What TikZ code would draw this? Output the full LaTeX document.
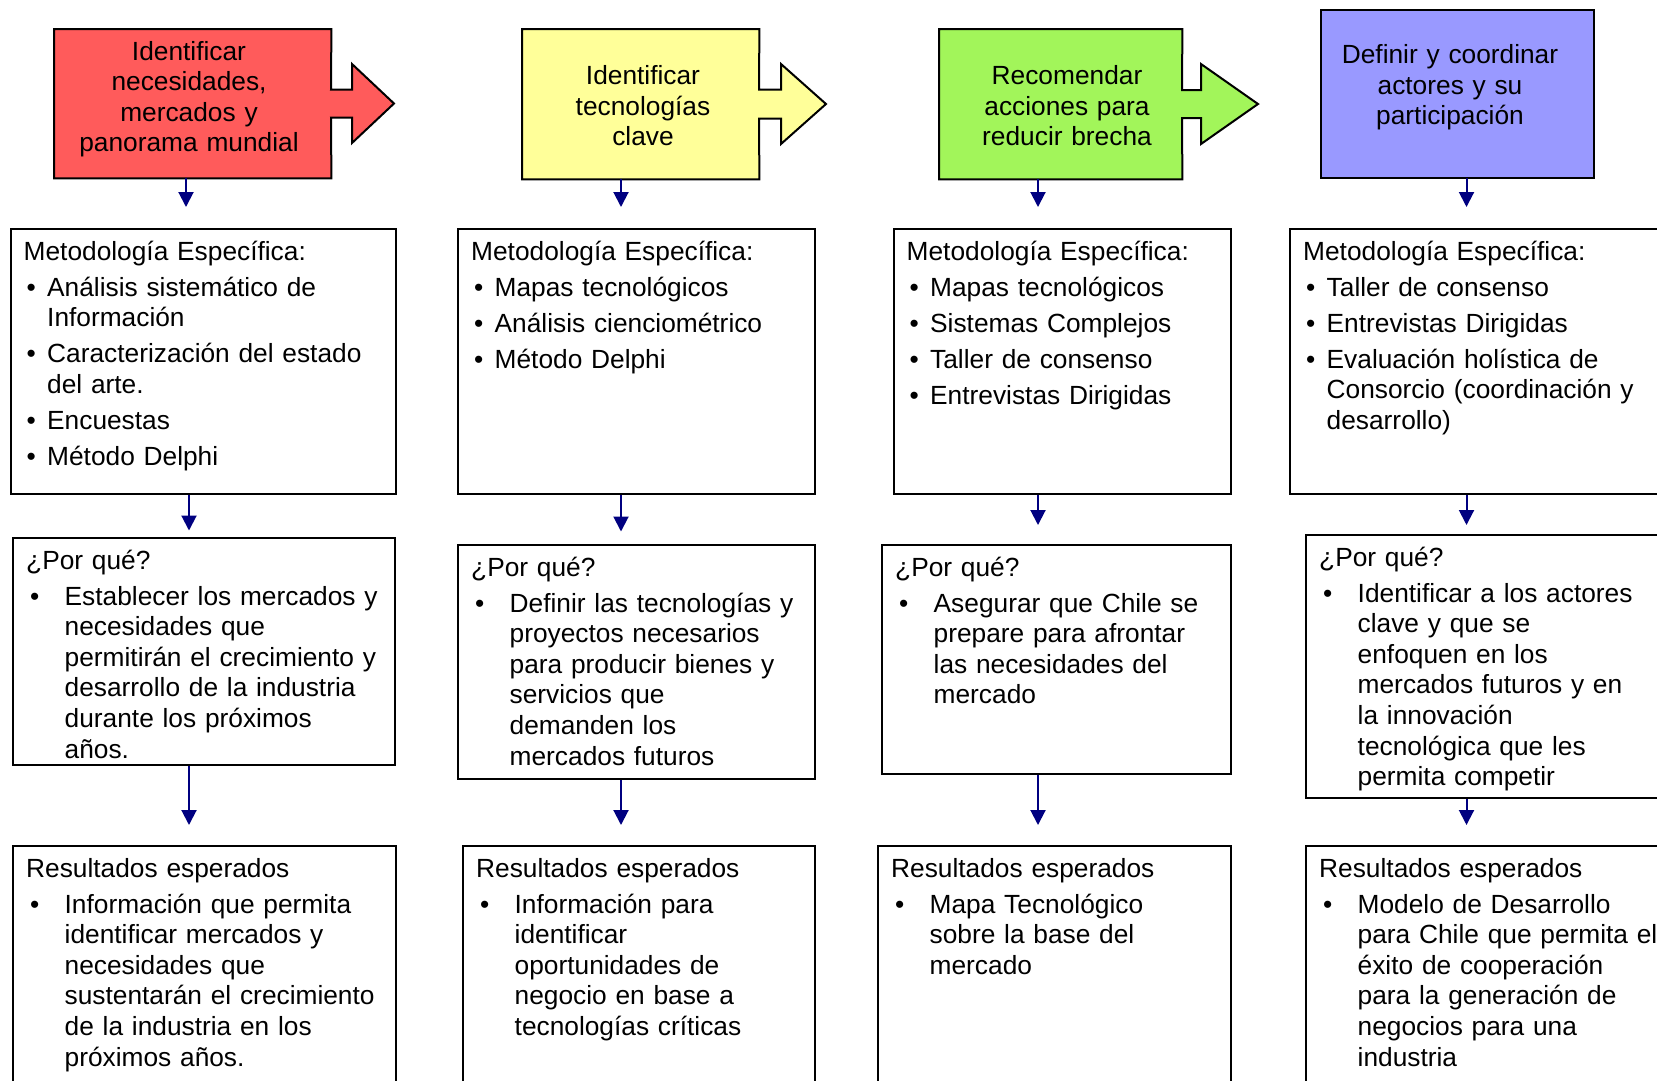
\documentclass[tikz,border=0pt]{standalone}
\usepackage{fontspec}
\setmainfont{Liberation Sans}
\usetikzlibrary{arrows.meta,calc}
\definecolor{cred}{RGB}{255,91,91}
\definecolor{cyel}{RGB}{255,255,153}
\definecolor{cgrn}{RGB}{162,245,90}
\definecolor{cblu}{RGB}{153,153,255}
\definecolor{navy}{RGB}{0,0,128}
\newcommand\bi[3]{\par\lineskip=0pt\relax\lineskiplimit=0pt\relax\vspace{5.4pt}\noindent\hspace*{#1}\makebox[\dimexpr#2-#1\relax][l]{\textbullet}\parbox[t]{420pt}{\strut#3\strut}}
\tikzset{
  box/.style={draw=black, line width=2pt, fill=white, inner sep=0pt, anchor=north west},
  tbox/.style={draw=none, inner sep=0pt, anchor=north west},
  tshape/.style={draw=black, line width=2pt},
  ttxt/.style={anchor=base, text width=320pt, align=center, inner sep=0pt, font=\fontsize{26.3pt}{30.6pt}\selectfont},
  btxt/.style={anchor=base west, text width=500pt, inner sep=0pt, font=\fontsize{26.3pt}{30.6pt}\selectfont},
  conn/.style={draw=navy, line width=2pt, -{Triangle[length=15pt,width=15pt]}}
}
\begin{document}
\begin{tikzpicture}[x=1pt,y=-1pt]
\useasboundingbox (0,0) rectangle (1657,1080);
\clip (0,0) rectangle (1657,1080);
% column axes
\coordinate (x1a) at (186,0);
\coordinate (x1) at (189,0);
\coordinate (x2) at (621,0);
\coordinate (x3) at (1038,0);
\coordinate (x4) at (1466.5,0);
% title shapes
\node[tbox, minimum width=277pt, minimum height=149pt] (t1) at (54,29) {};
\node[tbox, minimum width=237pt, minimum height=150pt] (t2) at (522,29) {};
\node[tbox, minimum width=243pt, minimum height=150pt] (t3) at (939,29) {};
\node[tbox, minimum width=273pt, minimum height=168pt] (t4) at (1321,10) {};
\path[tshape, fill=cred] (t1.north west) -- (t1.north east) -- (331,89.5) -- (352,89.5) -- (352,64) -- (394,103.5) -- (352,143) -- (352,117.5) -- (331,117.5) -- (t1.south east) -- (t1.south west) -- cycle;
\path[tshape, fill=cyel] (t2.north west) -- (t2.north east) -- (759,89.5) -- (781,89.5) -- (781,64) -- (826,104) -- (781,144) -- (781,118.5) -- (759,118.5) -- (t2.south east) -- (t2.south west) -- cycle;
\path[tshape, fill=cgrn] (t3.north west) -- (t3.north east) -- (1182,90) -- (1201,90) -- (1201,64) -- (1258,104) -- (1201,144) -- (1201,118) -- (1182,118) -- (t3.south east) -- (t3.south west) -- cycle;
\path[tshape, fill=cblu] (t4.north west) rectangle (t4.south east);
\node[ttxt] (t1x) at (189,60) {Identificar\\necesidades,\\mercados y\\panorama mundial};
\node[ttxt] (t2x) at (643,84.5) {Identificar\\tecnologías\\clave};
\node[ttxt] (t3x) at (1067,84.5) {Recomendar\\acciones para\\reducir brecha};
\node[ttxt] (t4x) at (1450,63.4) {Definir y coordinar\\actores y su\\participación};
% method boxes
\node[box, minimum width=385pt, minimum height=265pt] (m1) at (10,228) {};
\node[box, minimum width=357pt, minimum height=265pt] (m2) at (457,228) {};
\node[box, minimum width=337pt, minimum height=265pt] (m3) at (893,228) {};
\node[box, minimum width=401pt, minimum height=265pt] (m4) at (1289,228) {};
% por que boxes
\node[box, minimum width=382pt, minimum height=227pt] (p1) at (12,537) {};
\node[box, minimum width=357pt, minimum height=234pt] (p2) at (457,544) {};
\node[box, minimum width=349pt, minimum height=229pt] (p3) at (881,544) {};
\node[box, minimum width=385pt, minimum height=263pt] (p4) at (1305,534) {};
% result boxes
\node[box, minimum width=383pt, minimum height=260pt] (r1) at (12,845) {};
\node[box, minimum width=352pt, minimum height=260pt] (r2) at (462,845) {};
\node[box, minimum width=353pt, minimum height=260pt] (r3) at (877,845) {};
\node[box, minimum width=385pt, minimum height=260pt] (r4) at (1305,845) {};
% texts
\node[btxt] (m1x) at (23.5,260) {Metodología Específica:%
\bi{3pt}{23.5pt}{Análisis sistemático de\\Información}%
\bi{3pt}{23.5pt}{Caracterización del estado\\del arte.}%
\bi{3pt}{23.5pt}{Encuestas}%
\bi{3pt}{23.5pt}{Método Delphi}};
\node[btxt] (m2x) at (471,260) {Metodología Específica:%
\bi{3pt}{23.5pt}{Mapas tecnológicos}%
\bi{3pt}{23.5pt}{Análisis cienciométrico}%
\bi{3pt}{23.5pt}{Método Delphi}};
\node[btxt] (m3x) at (906.5,260) {Metodología Específica:%
\bi{3pt}{23.5pt}{Mapas tecnológicos}%
\bi{3pt}{23.5pt}{Sistemas Complejos}%
\bi{3pt}{23.5pt}{Taller de consenso}%
\bi{3pt}{23.5pt}{Entrevistas Dirigidas}};
\node[btxt] (m4x) at (1303,260) {Metodología Específica:%
\bi{3pt}{23.5pt}{Taller de consenso}%
\bi{3pt}{23.5pt}{Entrevistas Dirigidas}%
\bi{3pt}{23.5pt}{Evaluación holística de\\Consorcio (coordinación y\\desarrollo)}};
\node[btxt] (p1x) at (26,569) {¿Por qué?%
\bi{4pt}{38.5pt}{Establecer los mercados y\\necesidades que\\permitirán el crecimiento y\\desarrollo de la industria\\durante los próximos\\años.}};
\node[btxt] (p2x) at (471,576) {¿Por qué?%
\bi{4pt}{38.5pt}{Definir las tecnologías y\\proyectos necesarios\\para producir bienes y\\servicios que\\demanden los\\mercados futuros}};
\node[btxt] (p3x) at (895,576) {¿Por qué?%
\bi{4pt}{38.5pt}{Asegurar que Chile se\\prepare para afrontar\\las necesidades del\\mercado}};
\node[btxt] (p4x) at (1319,566) {¿Por qué?%
\bi{4pt}{38.5pt}{Identificar a los actores\\clave y que se\\enfoquen en los\\mercados futuros y en\\la innovación\\tecnológica que les\\permita competir}};
\node[btxt] (r1x) at (26,877) {Resultados esperados%
\bi{4pt}{38.5pt}{Información que permita\\identificar mercados y\\necesidades que\\sustentarán el crecimiento\\de la industria en los\\próximos años.}};
\node[btxt] (r2x) at (476,877) {Resultados esperados%
\bi{4pt}{38.5pt}{Información para\\identificar\\oportunidades de\\negocio en base a\\tecnologías críticas}};
\node[btxt] (r3x) at (891,877) {Resultados esperados%
\bi{4pt}{38.5pt}{Mapa Tecnológico\\sobre la base del\\mercado}};
\node[btxt] (r4x) at (1319,877) {Resultados esperados%
\bi{4pt}{38.5pt}{Modelo de Desarrollo\\para Chile que permita el\\éxito de cooperación\\para la generación de\\negocios para una\\industria}};
% connectors
\draw[conn, shorten >=21pt] (t1.south -| x1a) -- (m1.north -| x1a);
\draw[conn, shorten >=21pt] (t2.south -| x2) -- (m2.north -| x2);
\draw[conn, shorten >=21pt] (t3.south -| x3) -- (m3.north -| x3);
\draw[conn, shorten >=21pt] (t4.south -| x4) -- (m4.north -| x4);
\draw[conn, shorten >=6.5pt] (m1.south -| x1) -- (p1.north -| x1);
\draw[conn, shorten >=12.5pt] (m2.south -| x2) -- (p2.north -| x2);
\draw[conn, shorten >=19pt] (m3.south -| x3) -- (p3.north -| x3);
\draw[conn, shorten >=9pt] (m4.south -| x4) -- (p4.north -| x4);
\draw[conn, shorten >=20pt] (p1.south -| x1) -- (r1.north -| x1);
\draw[conn, shorten >=20pt] (p2.south -| x2) -- (r2.north -| x2);
\draw[conn, shorten >=20pt] (p3.south -| x3) -- (r3.north -| x3);
\draw[conn, shorten >=20pt] (p4.south -| x4) -- (r4.north -| x4);
\end{tikzpicture}
\end{document}
